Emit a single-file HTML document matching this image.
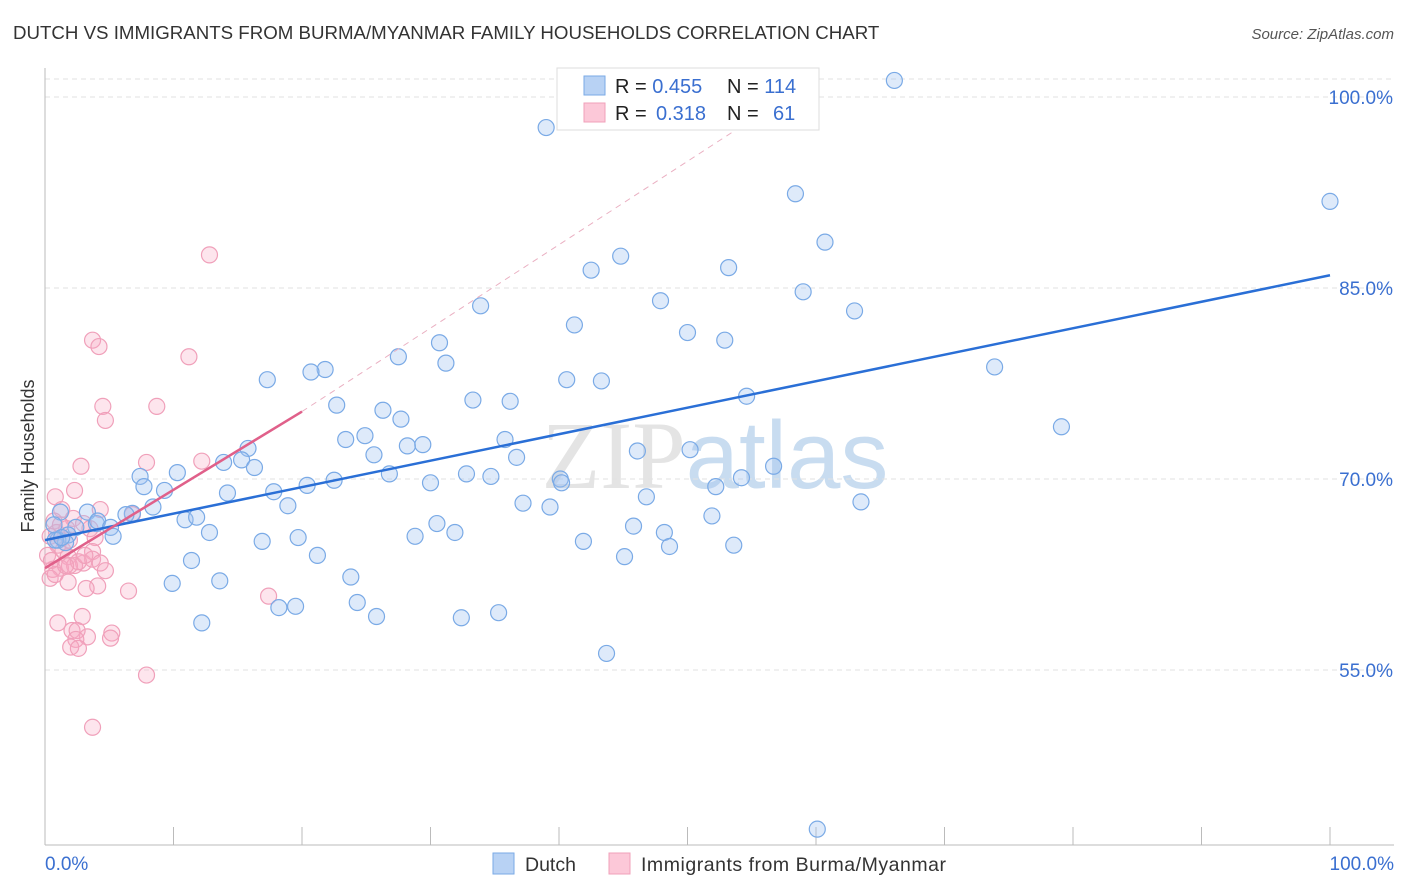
<!DOCTYPE html>
<html><head><meta charset="utf-8"><style>
body{margin:0;background:#fff;font-family:"Liberation Sans",sans-serif;}
#wrap{position:relative;width:1406px;height:892px;overflow:hidden;}
</style></head><body>
<div id="wrap">
<svg id="svg" width="1406" height="892" xmlns="http://www.w3.org/2000/svg">
<text x="13" y="39" font-size="18.7" fill="#333">DUTCH VS IMMIGRANTS FROM BURMA/MYANMAR FAMILY HOUSEHOLDS CORRELATION CHART</text>
<text x="1394" y="39" font-size="15" fill="#555" font-style="italic" text-anchor="end">Source: ZipAtlas.com</text>
<text x="715" y="488" font-size="96" fill="#e4e4e4" text-anchor="middle" font-family="Liberation Serif">ZIP<tspan font-family="Liberation Sans" fill="#c8dcf0">atlas</tspan></text>
<g id="grid"></g>
<g id="axes"></g>
<g id="pts"></g>
<g id="lines"></g>
<text transform="translate(34,456) rotate(-90)" font-size="18" fill="#333" text-anchor="middle">Family Households</text>
<g>
<rect x="557" y="68" width="262" height="62" fill="#fff" stroke="#ddd"/>
<rect x="584" y="76" width="21" height="19" fill="#b8d2f4" stroke="#7aaae6"/>
<rect x="584" y="103" width="21" height="19" fill="#fcc8d8" stroke="#f0a0ba"/>
<text x="615" y="93" font-size="20" fill="#222">R = <tspan fill="#3a6fd0">0.455</tspan><tspan x="727">N = </tspan><tspan fill="#3a6fd0">114</tspan></text>
<text x="615" y="120" font-size="20" fill="#222">R = <tspan x="656" fill="#3a6fd0">0.318</tspan><tspan x="727">N = </tspan><tspan x="773" fill="#3a6fd0">61</tspan></text>
</g>
<g>
<rect x="493" y="853" width="21" height="21" fill="#b8d2f4" stroke="#7aaae6"/>
<text x="525" y="871" font-size="19.5" fill="#333">Dutch</text>
<rect x="609" y="853" width="21" height="21" fill="#fcc8d8" stroke="#f0a0ba"/>
<text x="641" y="871" font-size="19.5" fill="#333" textLength="305">Immigrants from Burma/Myanmar</text>
</g>
</svg>
</div>
<script>
const yTicks=[100,85,70,55];
const xTickLabels=["0.0%","100.0%"];
const blueX=[66.1,39.0,58.4,100,60.7,44.8,42.5,53.2,47.9,59.0,33.9,63.0,41.2,50.0,52.9,30.7,27.5,31.2,21.8,20.7,17.3,40.6,43.3,73.9,54.6,33.3,36.2,22.7,26.3,27.7,79.1,23.4,24.9,35.8,28.2,29.4,15.8,46.1,50.2,25.6,36.7,15.3,13.9,16.3,10.3,56.7,26.8,32.8,34.7,7.4,22.5,7.7,40.1,30.0,40.2,20.4,54.2,52.2,9.3,17.8,14.2,46.8,37.2,39.3,63.5,18.9,8.4,6.8,6.3,3.3,1.2,51.9,10.9,11.8,30.5,45.8,0.7,4.0,4.1,2.4,5.1,12.8,31.9,48.2,1.8,5.3,28.8,41.9,16.9,19.7,48.6,53.6,1.0,1.6,21.2,45.1,11.4,23.8,13.6,9.9,24.3,19.5,18.2,35.3,25.8,32.4,12.2,43.7,60.1,0.8,1.3];
const blueY=[101.3,97.6,92.4,91.8,88.6,87.5,86.4,86.6,84.0,84.7,83.6,83.2,82.1,81.5,80.9,80.7,79.6,79.1,78.6,78.4,77.8,77.8,77.7,78.8,76.5,76.2,76.1,75.8,75.4,74.7,74.1,73.1,73.4,73.1,72.6,72.7,72.4,72.2,72.3,71.9,71.7,71.5,71.3,70.9,70.5,71.0,70.4,70.4,70.2,70.2,69.9,69.4,70.0,69.7,69.7,69.5,70.1,69.4,69.1,69.0,68.9,68.6,68.1,67.8,68.2,67.9,67.8,67.3,67.2,67.4,67.4,67.1,66.8,67.0,66.5,66.3,66.4,66.5,66.7,66.2,66.2,65.8,65.8,65.8,65.6,65.5,65.5,65.1,65.1,65.4,64.7,64.8,65.2,65.0,64.0,63.9,63.6,62.3,62.0,61.8,60.3,60.0,59.9,59.5,59.2,59.1,58.7,56.3,42.5,65.2,65.4];
const pinkX=[12.8,3.7,4.2,11.2,4.5,8.7,4.7,7.9,12.2,2.8,2.3,0.8,1.3,4.3,6.8,0.7,2.2,3.0,3.5,0.9,1.7,0.4,3.9,1.0,1.4,3.7,0.2,1.8,3.0,2.3,3.7,4.3,1.2,0.6,1.9,2.6,4.7,0.4,0.8,1.8,4.1,6.5,3.2,17.4,2.9,1.0,2.1,3.3,5.2,2.5,2.4,2.0,5.1,2.6,7.9,3.7,1.6,0.5,1.2,1.9,3.1];
const pinkY=[87.6,80.9,80.4,79.6,75.7,75.7,74.6,71.3,71.4,71.0,69.1,68.6,67.6,67.6,67.2,66.7,66.9,66.5,66.1,65.8,66.1,65.5,65.4,64.8,64.4,64.3,64.0,63.9,63.4,63.2,63.7,63.4,63.0,62.9,63.2,63.5,62.8,62.2,62.5,61.9,61.6,61.2,61.4,60.8,59.2,58.7,58.1,57.6,57.9,58.1,57.4,56.8,57.5,56.7,54.6,50.5,63.2,63.6,66.4,65.2,64.0];
const blueTrend=[[0,65.2],[100,86.0]];
const pinkTrend=[[0,63.0],[20,75.3]];
const pinkDash=[[20,75.3],[60,101.5]];

const NS="http://www.w3.org/2000/svg";
function sx(v){return 45+v*12.85;}
function sy(v){return 97+(100-v)*12.733;}
function mk(t,a,p){const e=document.createElementNS(NS,t);for(const k in a)e.setAttribute(k,a[k]);document.getElementById(p).appendChild(e);return e;}
let g=mk('line',{x1:45,x2:1394,y1:79,y2:79,stroke:'#e2e2e2','stroke-dasharray':'5,4'},'grid');


yTicks.forEach(t=>{
 const l=mk('line',{x1:45,x2:1394,y1:sy(t),y2:sy(t),stroke:'#e2e2e2','stroke-dasharray':'5,4'},'grid');
 
 
 const tx=mk('text',{x:1393,y:sy(t)+7,'font-size':19,fill:'#3a6fd0','text-anchor':'end'},'grid');
 tx.textContent=t.toFixed(1)+'%';
 
 
});
let a=mk('line',{x1:45,x2:45,y1:68,y2:845,stroke:'#bbb'},'axes');


a=mk('line',{x1:45,x2:1394,y1:845,y2:845,stroke:'#bbb'},'axes');


for(let i=0;i<=10;i++){
 const t=mk('line',{x1:sx(i*10),x2:sx(i*10),y1:827,y2:845,stroke:'#bbb'},'axes');
 
 
}
[[0,'start',45],[1,'end',1394]].forEach(([i,anc,x])=>{
 const t=mk('text',{x:x,y:870,'font-size':19,fill:'#3a6fd0','text-anchor':anc},'axes');
 t.textContent=xTickLabels[i];
 
 
});
pinkX.forEach((x,i)=>{
 const c=mk('circle',{cx:sx(x),cy:sy(pinkY[i]),r:8,fill:'rgba(248,170,195,0.3)',stroke:'#f0a0ba','stroke-width':1.2},'pts');
 
 
});
blueX.forEach((x,i)=>{
 const c=mk('circle',{cx:sx(x),cy:sy(blueY[i]),r:8,fill:'rgba(160,195,240,0.35)',stroke:'#7aaae6','stroke-width':1.2},'pts');
 
 
});
let l=mk('line',{x1:sx(pinkDash[0][0]),y1:sy(pinkDash[0][1]),x2:sx(pinkDash[1][0]),y2:sy(pinkDash[1][1]),stroke:'#eab0c2','stroke-dasharray':'6,5'},'lines');


l=mk('line',{x1:sx(blueTrend[0][0]),y1:sy(blueTrend[0][1]),x2:sx(blueTrend[1][0]),y2:sy(blueTrend[1][1]),stroke:'#2a6fd6','stroke-width':2.5},'lines');


l=mk('line',{x1:sx(pinkTrend[0][0]),y1:sy(pinkTrend[0][1]),x2:sx(pinkTrend[1][0]),y2:sy(pinkTrend[1][1]),stroke:'#e0608a','stroke-width':2.5},'lines');


</script>
</body></html>
